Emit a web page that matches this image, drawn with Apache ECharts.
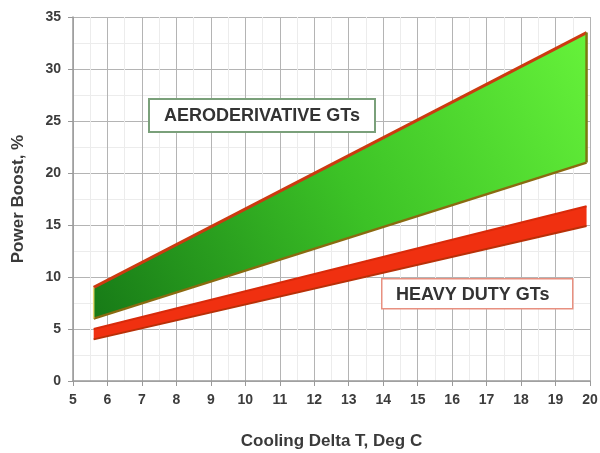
<!DOCTYPE html>
<html>
<head>
<meta charset="utf-8">
<script src="https://cdn.jsdelivr.net/npm/echarts@6/dist/echarts.min.js"></script>
<style>
  html, body { margin: 0; padding: 0; background: #fff; }
  #chart { width: 600px; height: 453px; }
</style>
</head>
<body>
<div id="chart"></div>
<script>
// band end points (Cooling Delta T, Deg C)
let bandX = [5.6, 19.9]
// aeroderivative GTs band, power boost %
let aeroTop = [9.0, 33.5]
let aeroBottom = [6.0, 21.0]
// heavy duty GTs band
let heavyTop = [5.0, 16.8]
let heavyBottom = [4.0, 14.9]

let xTicks = { min: 5, max: 20, interval: 1 }
let yTicks = { min: 0, max: 35, interval: 5 }

let font = 'Liberation Sans, Arial, sans-serif'

function pairs(xs, ys) {
  return xs.map((x, i) => [x, ys[i]])
}

// filled polygon between two edges, drawn through the axes
function band(name, top, bottom, fill) {
  return {
    name: name,
    type: 'custom',
    data: [0],
    silent: true,
    z: 2,
    renderItem(params, api) {
      let pts = []
      for (let i = 0; i < bandX.length; i++) pts.push(api.coord([bandX[i], top[i]]))
      for (let i = bandX.length - 1; i >= 0; i--) pts.push(api.coord([bandX[i], bottom[i]]))
      return { type: 'polygon', shape: { points: pts }, style: { fill: fill } }
    }
  }
}

function edge(data, color, width) {
  return {
    type: 'line',
    data: data,
    symbol: 'none',
    silent: true,
    z: 3,
    lineStyle: { color: color, width: width }
  }
}

function axisCommon() {
  return {
    type: 'value',
    nameLocation: 'middle',
    nameTextStyle: { fontFamily: font, fontWeight: 'bold', fontSize: 17, color: '#3a3a3a' },
    axisLine: { show: true, lineStyle: { color: '#999', width: 1.5 } },
    axisTick: { show: true, length: 5, lineStyle: { color: '#999' } },
    axisLabel: { fontFamily: font, fontWeight: 'bold', fontSize: 14, color: '#3c3c3c', margin: 12 },
    splitLine: { lineStyle: { color: '#b4b4b4' } },
    minorTick: { show: false, splitNumber: 2 },
    minorSplitLine: { show: true, lineStyle: { color: '#ececec' } }
  }
}

let chart = echarts.init(document.getElementById('chart'))
chart.setOption({
  animation: false,
  grid: { left: 73, right: 10, top: 17, bottom: 72, outerBoundsMode: 'none' },
  xAxis: Object.assign(axisCommon(), {
    min: xTicks.min,
    max: xTicks.max,
    interval: xTicks.interval,
    name: 'Cooling Delta T, Deg C',
    nameGap: 52
  }),
  yAxis: Object.assign(axisCommon(), {
    min: yTicks.min,
    max: yTicks.max,
    interval: yTicks.interval,
    name: 'Power Boost, %',
    nameGap: 46
  }),
  series: [
    band('Aeroderivative GTs', aeroTop, aeroBottom,
      new echarts.graphic.LinearGradient(0, 1, 1, 0, [
        { offset: 0, color: '#177a17' },
        { offset: 0.5, color: '#3cc226' },
        { offset: 1, color: '#66f23a' }
      ])),
    edge(pairs(bandX, aeroBottom), '#8a6a10', 2.5),
    edge(pairs(bandX, aeroTop), '#cc3a10', 3),
    edge([[bandX[1], aeroBottom[1]], [bandX[1], aeroTop[1]]], '#7a7a10', 2.5),
    edge([[bandX[0], aeroBottom[0]], [bandX[0], aeroTop[0]]], '#e8d870', 1.5),
    band('Heavy Duty GTs', heavyTop, heavyBottom, '#f03010'),
    edge(pairs(bandX, heavyTop), '#d82a0a', 2),
    edge(pairs(bandX, heavyBottom), '#b83008', 2)
  ],
  graphic: [
    {
      type: 'group',
      left: 148,
      top: 98,
      z: 100,
      children: [
        { type: 'rect', z: 100, shape: { x: 0, y: 0, width: 226, height: 33 }, style: { fill: '#fff', stroke: '#7aa07a', lineWidth: 2 } },
        { type: 'text', z: 101, x: 113, y: 17, style: { text: 'AERODERIVATIVE GTs', fontFamily: font, fontWeight: 'bold', fontSize: 18, fill: '#333', align: 'center', verticalAlign: 'middle' } }
      ]
    },
    {
      type: 'group',
      left: 381,
      top: 278,
      z: 100,
      children: [
        { type: 'rect', z: 100, shape: { x: 0, y: 0, width: 191, height: 30 }, style: { fill: '#fff', stroke: '#e89080', lineWidth: 1.5 } },
        { type: 'text', z: 101, x: 91, y: 16, style: { text: 'HEAVY DUTY GTs', fontFamily: font, fontWeight: 'bold', fontSize: 18, fill: '#333', align: 'center', verticalAlign: 'middle' } }
      ]
    }
  ]
})
</script>
</body>
</html>
